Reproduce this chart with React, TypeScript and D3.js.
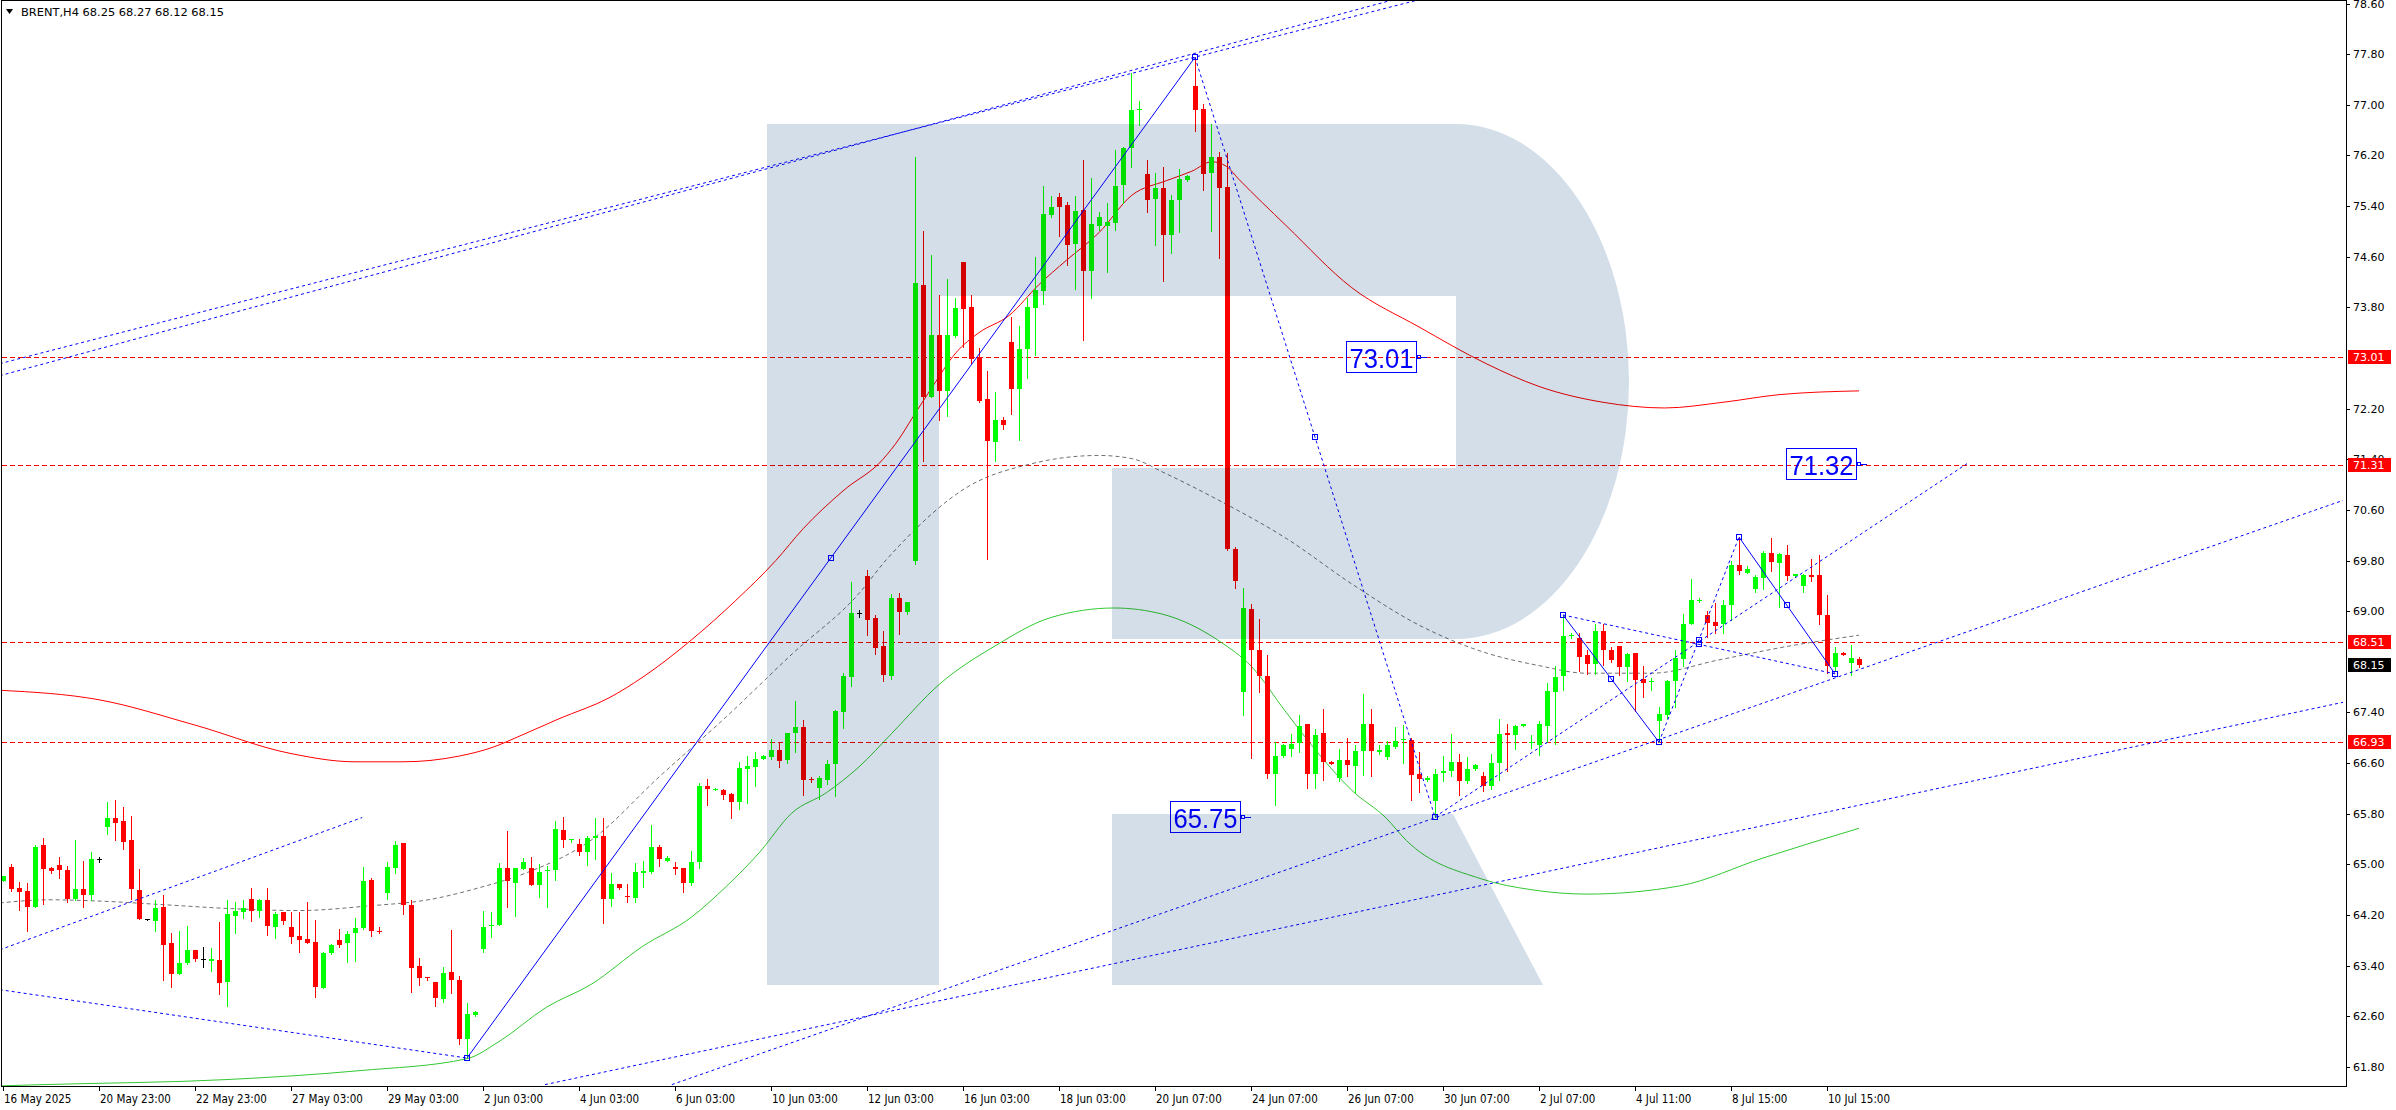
import React, { useEffect } from 'react';
import * as d3 from 'd3';

// ---------- DATA ----------
// OHLC of BRENT H4 bars, in order (open, high, low, close)
const candles: [number, number, number, number][] = [
  [64.73,64.81,64.73,64.81],[64.96,65.00,64.58,64.61],[64.63,64.72,64.28,64.57],[64.58,64.70,63.94,64.32],[64.33,65.31,64.33,65.28],
  [65.30,65.42,64.38,64.92],[64.94,64.96,64.87,64.90],[64.99,65.11,64.79,64.91],[64.91,64.98,64.40,64.45],[64.46,65.38,64.44,64.61],
  [64.61,65.06,64.32,64.51],[64.51,65.19,64.43,65.09],[65.08,65.12,65.04,65.08],[65.59,65.98,65.48,65.74],[65.74,66.01,65.38,65.65],
  [65.68,65.90,65.24,65.36],[65.38,65.76,64.46,64.61],[64.60,64.92,64.13,64.13],[64.13,64.14,64.12,64.13],[64.11,64.43,63.94,64.31],
  [64.33,64.52,63.18,63.73],[63.76,63.92,63.06,63.26],[63.26,63.94,63.26,63.44],[63.44,64.03,63.43,63.65],[63.65,63.65,63.48,63.51],
  [63.50,63.70,63.38,63.50],[63.47,63.68,63.32,63.50],[63.49,64.09,62.95,63.13],[63.14,64.43,62.77,64.22],[64.19,64.41,63.92,64.26],
  [64.24,64.43,64.16,64.31],[64.46,64.62,64.11,64.27],[64.27,64.46,64.17,64.43],[64.44,64.63,63.89,64.03],[64.01,64.25,63.83,64.22],
  [64.24,64.25,64.05,64.11],[64.01,64.25,63.75,63.86],[63.87,64.25,63.62,63.81],[63.82,64.41,63.75,63.76],[63.78,64.12,62.91,63.07],
  [63.05,63.62,63.05,63.60],[63.60,63.74,63.59,63.72],[63.81,63.98,63.70,63.73],[63.75,63.95,63.45,63.90],[63.92,64.16,63.48,64.00],
  [63.99,64.96,63.98,64.74],[64.76,64.79,63.87,63.94],[63.95,64.01,63.92,63.94],[64.54,65.04,64.46,64.96],[64.95,65.37,64.87,65.31],
  [65.33,65.34,64.22,64.35],[64.35,64.43,62.98,63.37],[63.40,63.52,63.10,63.21],[63.22,63.22,63.18,63.20],[63.14,63.14,62.77,62.89],
  [62.88,63.38,62.82,63.28],[63.30,63.97,62.97,63.18],[63.17,63.24,62.16,62.24],[62.24,62.81,61.94,62.63],[62.62,62.69,62.61,62.67],
  [63.66,64.26,63.62,64.01],[64.02,64.25,63.86,64.04],[64.04,65.02,64.04,64.94],[64.94,65.53,64.33,64.73],[64.71,64.94,64.19,64.94],
  [64.93,65.10,64.92,65.03],[64.95,65.12,64.68,64.68],[64.68,65.01,64.48,64.88],[64.90,64.97,64.33,64.91],[64.91,65.69,64.75,65.56],
  [65.55,65.75,65.27,65.38],[65.38,65.40,65.36,65.40],[65.32,65.40,65.15,65.19],[65.19,65.44,64.99,65.42],[65.41,65.73,65.09,65.45],
  [65.45,65.73,64.07,64.46],[64.46,64.86,64.34,64.69],[64.69,64.69,64.61,64.63],[64.50,64.69,64.40,64.48],[64.47,65.02,64.40,64.88],
  [64.87,65.05,64.65,64.90],[64.88,65.62,64.86,65.27],[65.28,65.30,64.98,65.08],[65.06,65.13,65.06,65.10],[64.96,65.03,64.84,64.93],
  [64.94,64.94,64.57,64.71],[64.71,65.21,64.68,65.03],[65.03,66.28,64.94,66.24],[66.24,66.35,65.94,66.19],[66.18,66.20,66.17,66.19],
  [66.17,66.19,66.03,66.10],[66.11,66.12,65.74,65.99],[65.99,66.61,65.88,66.52],[66.51,66.71,65.97,66.55],[66.54,66.77,66.24,66.67],
  [66.66,66.73,66.66,66.71],[66.70,66.98,66.67,66.80],[66.80,66.91,66.54,66.64],[66.65,67.08,66.60,67.08],[67.07,67.58,66.78,67.17],
  [67.17,67.28,66.10,66.34],[66.35,66.38,66.30,66.34],[66.20,66.39,66.04,66.36],[66.34,66.65,66.27,66.59],[66.59,67.44,66.08,67.42],
  [67.40,68.02,67.16,67.98],[67.96,69.46,67.81,68.97],[68.97,69.02,68.91,68.97],[69.56,69.65,68.62,68.86],[68.89,68.94,68.32,68.42],
  [68.45,68.69,67.89,67.99],[67.98,69.27,67.93,69.20],[69.21,69.28,68.64,68.98],[68.98,69.15,68.96,69.15],[69.80,76.17,69.75,74.18],
  [74.16,75.00,71.38,72.38],[72.38,74.62,72.38,73.37],[73.37,73.99,72.02,72.48],[72.48,74.24,72.09,73.37],[73.34,73.94,73.33,73.79],
  [74.51,74.51,73.18,73.78],[73.81,73.99,72.91,72.99],[73.02,73.16,72.31,72.32],[72.35,72.79,69.83,71.69],[71.67,72.47,71.37,72.02],
  [72.02,72.06,71.87,71.94],[73.26,73.64,72.12,72.51],[72.51,73.50,71.71,73.14],[73.14,73.95,72.69,73.80],[73.79,74.59,73.04,74.07],
  [74.06,75.71,73.85,75.27],[75.26,75.56,75.23,75.38],[75.54,75.60,74.92,75.38],[75.41,75.47,74.47,74.78],[74.80,75.56,74.09,75.32],
  [75.33,76.12,73.29,74.37],[74.37,75.84,73.95,75.11],[75.09,75.31,75.02,75.22],[75.09,75.45,74.36,75.15],[75.14,76.29,75.02,75.71],
  [75.74,76.34,75.45,76.32],[76.32,77.50,76.02,76.92],[76.91,77.06,76.68,76.93],[75.91,76.13,75.31,75.49],[75.51,75.93,74.78,75.69],
  [75.69,76.02,74.22,74.95],[74.95,75.57,74.66,75.49],[75.49,75.98,74.99,75.82],[75.81,75.89,75.79,75.87],[77.30,77.75,76.58,76.92],
  [76.93,77.02,75.65,75.91],[75.93,76.70,75.01,76.17],[76.17,76.26,74.58,75.68],[75.70,76.24,69.97,69.98],[69.98,70.01,69.37,69.47],
  [67.73,69.36,67.36,69.05],[69.03,69.11,66.68,68.38],[68.38,68.87,67.73,67.98],[67.98,68.31,66.37,66.43],[66.43,66.93,65.93,66.71],
  [66.71,66.90,66.69,66.88],[66.83,67.06,66.71,66.90],[66.91,67.36,66.78,67.18],[67.21,67.21,66.20,66.42],[66.43,67.14,66.20,67.05],
  [67.07,67.45,66.34,66.62],[66.62,66.63,66.58,66.59],[66.37,66.83,66.31,66.65],[66.65,67.00,66.39,66.57],[66.56,66.88,66.15,66.79],
  [66.79,67.69,66.41,67.22],[67.21,67.46,66.40,66.79],[66.78,66.89,66.75,66.80],[66.70,66.95,66.66,66.88],[66.86,67.17,66.84,66.95],
  [66.96,67.20,66.60,66.98],[66.97,67.00,66.02,66.41],[66.43,66.77,66.15,66.35],[66.33,66.40,66.31,66.37],[66.00,66.51,65.75,66.42],
  [66.45,66.71,66.31,66.48],[66.47,67.06,66.39,66.62],[66.62,66.75,66.10,66.32],[66.31,66.69,66.28,66.50],[66.51,66.58,66.49,66.57],
  [66.39,66.46,66.16,66.23],[66.23,66.75,66.19,66.60],[66.60,67.30,66.34,67.06],[67.07,67.21,66.48,67.04],[67.04,67.20,66.82,67.18],
  [67.18,67.22,67.18,67.21],[66.91,67.05,66.84,66.93],[66.89,67.26,66.72,67.22],[67.19,67.87,66.94,67.74],[67.73,68.13,66.90,67.96],
  [67.97,68.94,67.76,68.61],[68.60,68.65,68.57,68.62],[68.57,68.65,68.06,68.27],[68.30,68.39,68.01,68.17],[68.17,68.79,68.01,68.69],
  [68.69,68.79,68.15,68.38],[68.39,68.43,68.19,68.23],[68.45,68.45,67.99,68.11],[68.11,68.34,67.89,68.33],[68.34,68.34,67.43,67.92],
  [67.93,68.13,67.65,67.86],[67.88,67.94,67.76,67.89],[67.26,67.48,66.93,67.38],[67.36,67.92,67.31,67.89],[67.89,68.39,67.49,68.26],
  [68.25,68.96,68.13,68.80],[68.79,69.51,68.79,69.18],[69.16,69.21,69.15,69.18],[68.94,69.01,68.59,68.81],[68.83,69.13,68.65,68.77],
  [68.80,69.18,68.65,69.10],[69.09,69.79,68.86,69.73],[69.73,70.17,69.59,69.63],[69.61,69.71,69.60,69.67],[69.35,69.57,69.31,69.54],
  [69.53,69.95,69.35,69.92],[69.92,70.16,69.64,69.77],[69.76,69.92,69.07,69.90],[69.89,70.04,69.50,69.55],[69.55,69.59,69.54,69.59],
  [69.39,69.59,69.31,69.57],[69.57,69.82,69.47,69.54],[69.57,69.89,68.80,68.94],[68.94,69.26,68.02,68.14],[68.11,68.43,68.05,68.34],
  [68.34,68.36,68.30,68.31],[68.18,68.46,67.99,68.26],[68.25,68.27,68.12,68.15],
];

// envelope lines: [bar index, price]
const upperBand: [number, number][] = [
  [-0.4,67.75],[12,67.6],[24,67.2],[36,66.75],[44,66.62],[50,66.62],[57,66.71],[61,66.84],[65,67.05],[69.5,67.3],[75.75,67.63],
  [80,67.96],[86,68.54],[91.6,69.17],[96.6,69.8],[100,70.3],[105,70.9],[110,71.4],[112,71.72],[113.6,72.04],[116.1,72.53],
  [119.1,73.08],[122,73.4],[125.75,73.67],[129.5,74.16],[132.9,74.54],[137,74.98],[141.1,75.57],[145.4,75.8],[148.6,75.95],
  [151.1,76.1],[152.9,76.03],[154.5,75.82],[160.4,75.09],[168.6,74.11],[177,73.49],[185.4,72.91],[192,72.55],[200,72.3],
  [207.7,72.21],[215,72.3],[222,72.42],[232,72.48],
];
const middleBand: [number, number][] = [
  [-0.4,64.39],[5.75,64.44],[12,64.42],[20.4,64.36],[28.6,64.3],[37,64.27],[45.4,64.34],[53.6,64.45],[59.5,64.63],[65.3,64.86],
  [73.6,65.39],[82,66.38],[90.4,67.33],[98.7,68.33],[107,69.28],[110.4,69.81],[112,70.03],[120.4,70.95],[128.6,71.33],[137,71.46],
  [141.1,71.41],[145.4,71.17],[152,70.75],[160.4,70.15],[168.6,69.43],[177,68.78],[185.4,68.34],[192,68.14],[197.9,68.02],
  [206.1,68.02],[214.5,68.23],[222.9,68.44],[232,68.62],
];
const lowerBand: [number, number][] = [
  [-0.4,61.5],[5,61.52],[28,61.6],[44.5,61.74],[58,61.93],[62,62.2],[67.9,62.74],[73.6,63.11],[79.9,63.7],[86.1,64.17],[90.4,64.65],
  [94.5,65.18],[98.6,65.81],[102.9,66.13],[107,66.54],[111.1,67.07],[117,67.84],[124,68.45],[131,68.9],[138.9,69.05],[145,68.95],
  [152,68.53],[156.1,68.12],[160.4,67.4],[164.5,66.74],[168.6,66.17],[172.9,65.73],[175.4,65.38],[184.8,64.77],[191,64.6],
  [198,64.53],[209.6,64.66],[220,65.1],[232,65.57],
];

const levelPrices = [73.01, 71.31, 68.51, 66.93];
const lastPrice = 68.15;
const shownPriceTicks = [61.8, 62.6, 63.4, 64.2, 65.0, 65.8, 66.6, 67.4, 69.0, 69.8, 70.6, 71.4, 72.2, 73.8, 74.6, 75.4, 76.2, 77.0, 77.8, 78.6];
const timeTicks: [number, string][] = [
  [0,'16 May 2025'],[12,'20 May 23:00'],[24,'22 May 23:00'],[36,'27 May 03:00'],[48,'29 May 03:00'],[60,'2 Jun 03:00'],
  [72,'4 Jun 03:00'],[84,'6 Jun 03:00'],[96,'10 Jun 03:00'],[108,'12 Jun 03:00'],[120,'16 Jun 03:00'],[132,'18 Jun 03:00'],
  [144,'20 Jun 07:00'],[156,'24 Jun 07:00'],[168,'26 Jun 07:00'],[180,'30 Jun 07:00'],[192,'2 Jul 07:00'],[204,'4 Jul 11:00'],
  [216,'8 Jul 15:00'],[228,'10 Jul 15:00'],
];

// wave points [bar index, price]
const swingLow: [number, number] = [58, 61.94];
const swingHigh: [number, number] = [149, 77.75];
const swingLow2: [number, number] = [179, 65.75];
const p1: [number, number] = [195, 68.94];
const p3: [number, number] = [207, 66.93];
const p5: [number, number] = [217, 70.17];
const p7: [number, number] = [229, 68.01];

const dottedLines: [number, number][][] = [
  [[-0.4, 63.65], [44.9, 65.74]],
  [[-0.4, 63.02], swingLow],
  [[-0.4, 72.91], [181, 78.79]],
  [[-0.4, 72.72], [175, 78.7]],
  [[67.75, 61.52], [292.5, 67.56]],
  [[83.6, 61.52], [292.5, 70.75]],
  [swingLow2, [245.5, 71.33]],
  [swingHigh, swingLow2],
  [p3, p5],
  [p1, p7],
];
const solidLines: [number, number][][] = [
  [swingLow, swingHigh],
  [p1, p3],
  [p5, p7],
];
const priceLabels: { i: number; p: number; t: string }[] = [
  { i: 177, p: 73.01, t: '73.01' },
  { i: 232, p: 71.32, t: '71.32' },
  { i: 155, p: 65.75, t: '65.75' },
];

// ---------- CHART ----------
const W = 2396, H = 1110;
const PL = 2, PR = 2346, PT = 0.5, PB = 1086;
const x = d3.scaleLinear().domain([0, 1]).range([3, 11]);
const y = d3.scaleLinear().domain([61.8, 78.6]).range([1066.9, 3.5]);

const UP = '#00ff00', DOWN = '#ff0000';
const LOGO = '#d3dee9';

export default function App() {
  useEffect(() => { document.body.style.margin = '0'; }, []);
  const bandLine = d3.line<[number, number]>().x(d => x(d[0])).y(d => y(d[1])).curve(d3.curveMonotoneX);
  const seg = (pts: [number, number][]) => `M${x(pts[0][0])},${y(pts[0][1])}L${x(pts[1][0])},${y(pts[1][1])}`;
  const mid = (a: [number, number], b: [number, number]): [number, number] => [(a[0] + b[0]) / 2, (a[1] + b[1]) / 2];
  const markers: [number, number][] = [
    swingLow, mid(swingLow, swingHigh), swingHigh, mid(swingHigh, swingLow2), swingLow2,
    p1, mid(p1, p3), p3, mid(p3, p5), p5, mid(p5, p7), p7, mid(p1, p7),
  ];
  const font = '"DejaVu Sans", sans-serif';

  return (
    <svg width={W} height={H} style={{ position: 'absolute', left: 0, top: 0, background: '#fff' }} xmlns="http://www.w3.org/2000/svg">
      <defs>
        <clipPath id="plot"><rect x={PL} y={PT} width={PR - PL} height={PB - PT} /></clipPath>
      </defs>
      <rect x={0} y={0} width={W} height={H} fill="#fff" />
      <g clipPath="url(#plot)">
        {levelPrices.map(p => (
          <line key={p} x1={PL} x2={PR} y1={Math.round(y(p)) + 0.5} y2={Math.round(y(p)) + 0.5} stroke="#ff0000" strokeDasharray="5 3" />
        ))}
        <path d={bandLine(upperBand) || ''} fill="none" stroke="#ff0000" strokeWidth={1} />
        <path d={bandLine(middleBand) || ''} fill="none" stroke="#707070" strokeWidth={1} strokeDasharray="4 3" />
        <path d={bandLine(lowerBand) || ''} fill="none" stroke="#32c832" strokeWidth={1} />
        <g shapeRendering="crispEdges">
          {candles.map((c, i) => {
            const [o, h, l, cl] = c;
            const cx = Math.round(x(i));
            const yh = Math.round(y(h)), yl = Math.round(y(l));
            const doji = o === cl;
            const col = doji ? '#000' : cl > o ? UP : DOWN;
            const yt = Math.round(y(Math.max(o, cl))), yb = Math.round(y(Math.min(o, cl)));
            return (
              <g key={i}>
                <rect x={cx} y={yh} width={1} height={Math.max(1, yl - yh + 1)} fill={col} />
                {doji
                  ? <rect x={cx - 2} y={yt} width={5} height={1} fill={col} />
                  : <rect x={cx - 2} y={yt} width={5} height={Math.max(1, yb - yt)} fill={col} />}
              </g>
            );
          })}
        </g>
        {dottedLines.map((l, k) => (
          <path key={'d' + k} d={seg(l)} fill="none" stroke="#0000ff" strokeWidth={1} strokeDasharray="3 3" />
        ))}
        {solidLines.map((l, k) => (
          <path key={'s' + k} d={seg(l)} fill="none" stroke="#0000ff" strokeWidth={1} />
        ))}
        {markers.map((m, k) => (
          <rect key={'m' + k} x={Math.round(x(m[0])) - 2.5} y={Math.round(y(m[1])) - 2.5} width={5} height={5} fill="none" stroke="#0000ff" strokeWidth={1} />
        ))}
        {priceLabels.map((lb, k) => {
          const ax = Math.round(x(lb.i)), ay = Math.round(y(lb.p));
          return (
            <g key={'pl' + k}>
              <rect x={ax - 72.5} y={ay - 15.5} width={70} height={31} fill="none" stroke="#0000ff" strokeWidth={1} />
              <text x={ax - 37.5} y={ay + 1} fill="#0000ff" fontFamily='"Liberation Sans", Arial, sans-serif' fontSize={28}
                textAnchor="middle" dominantBaseline="central" textLength={64} lengthAdjust="spacingAndGlyphs">{lb.t}</text>
              <rect x={ax - 1.5} y={ay - 1.5} width={3} height={3} fill="none" stroke="#0000ff" strokeWidth={1} />
              <line x1={ax + 1} x2={ax + 8} y1={ay + 0.5} y2={ay + 0.5} stroke="#0000ff" />
            </g>
          );
        })}
        <g style={{ mixBlendMode: 'multiply' }} fill={LOGO}>
          <path d="M767,124 H1456 A173,257.5 0 0 1 1456,639 H1112 V468 H1456 V296 H939 V985 H767 Z" />
          <path d="M1112,814 H1453 L1543,985 H1112 Z" />
        </g>
      </g>
      <rect x={1.5} y={0.5} width={PR - 1.5} height={PB - 0.5} fill="none" stroke="#000" strokeWidth={1} shapeRendering="crispEdges" />
      <path d="M6,9 L13,9 L9.5,14 Z" fill="#000" />
      <text x={21} y={12} fontFamily={font} fontSize={11} dominantBaseline="central" fill="#000" textLength={203} lengthAdjust="spacingAndGlyphs">BRENT,H4  68.25 68.27 68.12 68.15</text>
      {shownPriceTicks.map(p => {
        const yy = Math.round(y(p));
        return (
          <g key={'pt' + p}>
            <line x1={PR} x2={PR + 4} y1={yy + 0.5} y2={yy + 0.5} stroke="#000" />
            <text x={2353} y={yy} fontFamily={font} fontSize={11} dominantBaseline="central" fill="#000">{p.toFixed(2)}</text>
          </g>
        );
      })}
      {levelPrices.map(p => {
        const yy = Math.round(y(p));
        return (
          <g key={'lv' + p}>
            <rect x={2348} y={yy - 7} width={43} height={14} fill="#ff0000" />
            <text x={2353} y={yy} fontFamily={font} fontSize={11} dominantBaseline="central" fill="#fff">{p.toFixed(2)}</text>
          </g>
        );
      })}
      <rect x={2348} y={Math.round(y(lastPrice)) - 7} width={43} height={14} fill="#000" />
      <text x={2353} y={Math.round(y(lastPrice))} fontFamily={font} fontSize={11} dominantBaseline="central" fill="#fff">{lastPrice.toFixed(2)}</text>
      {timeTicks.map(([i, t]) => {
        const xx = Math.round(x(i));
        return (
          <g key={'tt' + i}>
            <line x1={xx + 0.5} x2={xx + 0.5} y1={PB} y2={PB + 5} stroke="#000" />
            <text x={xx + 1} y={1099} fontFamily='"DejaVu Sans Condensed", "DejaVu Sans", sans-serif' fontSize={11.5} dominantBaseline="central" fill="#000">{t}</text>
          </g>
        );
      })}
    </svg>
  );
}
